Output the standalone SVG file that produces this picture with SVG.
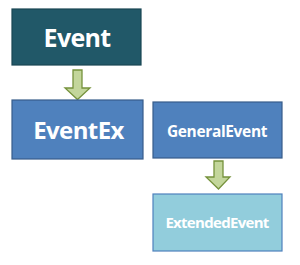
<svg xmlns="http://www.w3.org/2000/svg" width="300" height="265" viewBox="0 0 300 265">
<defs>
<style>
.box{stroke-width:1.2}
.t{font-family:"Open Sans","Liberation Sans",sans-serif;font-weight:bold;fill:#ffffff;text-anchor:middle}
.arr{fill:#c3d69b;stroke:#76923c;stroke-width:1.3;stroke-linejoin:miter}
</style>
</defs>
<rect width="300" height="265" fill="#ffffff"/>
<g id="connectors">
<path class="arr" d="M73,70 H82 V88 H90 L77.5,99.5 L65,88 H73 Z"/>
<path class="arr" d="M214,161 H223 V177 H230 L218.5,189 L206,177 H214 Z"/>
</g>
<g id="event">
<rect class="box" x="12" y="9" width="129" height="56" fill="#215868" stroke="#1a4654"/>
<text class="t" x="77" y="47" font-size="25" letter-spacing="-0.7">Event</text>
</g>
<g id="eventex">
<rect class="box" x="12" y="100" width="131" height="59" fill="#4f81bd" stroke="#385d8a"/>
<text class="t" x="78.5" y="139" font-size="24" letter-spacing="-0.6">EventEx</text>
</g>
<g id="generalevent">
<rect class="box" x="153" y="102" width="129" height="56" fill="#4f81bd" stroke="#385d8a"/>
<text class="t" x="217" y="137" font-size="15.5" letter-spacing="-0.35">GeneralEvent</text>
</g>
<g id="extendedevent">
<rect class="box" x="153" y="194" width="129" height="57" fill="#92cddc" stroke="#4f81bd"/>
<text class="t" x="217" y="228" font-size="15" letter-spacing="-0.7" fill="#f2f2f2">ExtendedEvent</text>
</g>
</svg>
